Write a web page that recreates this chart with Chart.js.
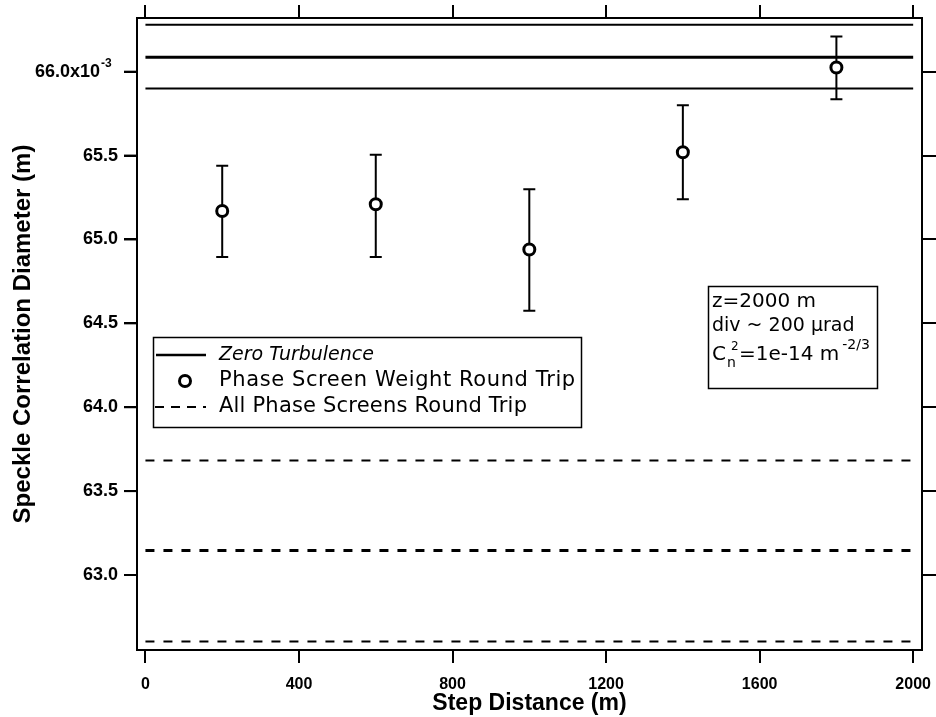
<!DOCTYPE html>
<html>
<head>
<meta charset="utf-8">
<script src="https://cdn.jsdelivr.net/npm/chart.js@4.4.1/dist/chart.umd.min.js"></script>
<style>
  html, body { margin: 0; padding: 0; background: #fff; }
  #wrap { position: relative; width: 936px; height: 717px; }
  canvas { display: block; }
</style>
</head>
<body>
<div id="wrap"><canvas id="c" width="936" height="717"></canvas></div>
<script>
// ---- data ----
const stepDistance = [200, 600, 1000, 1400, 1800];
const weightMean   = [65.17, 65.21, 64.94, 65.52, 66.025];
const weightHigh   = [65.44, 65.505, 65.30, 65.80, 66.21];
const weightLow    = [64.895, 64.895, 64.575, 65.24, 65.835];

const lineSpan = [0, 2000];
const zeroTurbulence = [66.28, 66.086, 65.90];   // solid lines (upper, centre, lower)
const allScreens     = [63.682, 63.146, 62.603]; // dashed lines (upper, centre, lower)

const xTicks = [0, 400, 800, 1200, 1600, 2000];
const xTickLabels = ['0', '400', '800', '1200', '1600', '2000'];
const yTicks = [63.0, 63.5, 64.0, 64.5, 65.0, 65.5, 66.0];
const yTickLabels = ['63.0', '63.5', '64.0', '64.5', '65.0', '65.5', '66.0x10^-3'];

const legendLabels = ['Zero Turbulence', 'Phase Screen Weight Round Trip', 'All Phase Screens Round Trip'];
const noteLines = ['z=2000 m', 'div ~ 200 \u00B5rad'];

const xRange = [-22, 2023];
const yRange = [62.553, 66.32];

// ---- build datasets ----
function hLine(v) { return lineSpan.map(x => ({ x: x, y: v })); }
const datasets = [];
zeroTurbulence.forEach((v, i) => datasets.push({
  type: 'line', data: hLine(v), borderColor: '#000', borderWidth: i === 1 ? 3 : 2,
  pointRadius: 0, fill: false, tension: 0
}));
allScreens.forEach((v, i) => datasets.push({
  type: 'line', data: hLine(v), borderColor: '#000', borderWidth: i === 1 ? 3 : 2,
  borderDash: [9, 9], pointRadius: 0, fill: false, tension: 0
}));
datasets.push({
  type: 'scatter', data: stepDistance.map((x, i) => ({ x: x, y: weightMean[i] })),
  pointStyle: 'circle', pointRadius: 5.5, borderWidth: 3, borderColor: '#000',
  backgroundColor: '#fff', showLine: false
});

const SANS = '"Liberation Sans", Arial, sans-serif';
const LEG = '"DejaVu Sans", sans-serif';

const errorBars = {
  id: 'errorBars',
  beforeDatasetsDraw(chart) {
    const ctx = chart.ctx, xs = chart.scales.x, ys = chart.scales.y;
    ctx.save();
    ctx.strokeStyle = '#000';
    ctx.lineWidth = 2;
    stepDistance.forEach((x, i) => {
      const px = xs.getPixelForValue(x);
      const hi = ys.getPixelForValue(weightHigh[i]);
      const lo = ys.getPixelForValue(weightLow[i]);
      ctx.beginPath();
      ctx.moveTo(px, hi); ctx.lineTo(px, lo);
      ctx.moveTo(px - 6, hi); ctx.lineTo(px + 6, hi);
      ctx.moveTo(px - 6, lo); ctx.lineTo(px + 6, lo);
      ctx.stroke();
    });
    ctx.restore();
  }
};

const decorations = {
  id: 'decorations',
  afterDraw(chart) {
    const ctx = chart.ctx, ys = chart.scales.y, area = chart.chartArea;
    ctx.save();
    ctx.fillStyle = '#000';
    ctx.strokeStyle = '#000';
    // left tick marks, from the y scale
    yTicks.forEach(v => {
      const py = ys.getPixelForValue(v);
      ctx.fillRect(area.left - 13, py - 1, 13, 2);
    });
    // superscripted tick label
    yTickLabels.forEach((lab, i) => {
      if (lab.indexOf('^') < 0) return;
      const parts = lab.split('^');
      const py = ys.getPixelForValue(yTicks[i]);
      ctx.font = 'bold 18px ' + SANS;
      ctx.textAlign = 'right'; ctx.textBaseline = 'middle';
      ctx.fillText(parts[0], 100, py);
      ctx.font = 'bold 12px ' + SANS;
      ctx.textAlign = 'left';
      ctx.fillText(parts[1], 101, py - 8);
    });

    // legend box
    ctx.lineWidth = 1.5;
    ctx.strokeRect(153.5, 337.5, 428, 90);
    const rows = [355, 381, 407];
    ctx.lineWidth = 2.5;
    ctx.beginPath(); ctx.moveTo(156, rows[0]); ctx.lineTo(206, rows[0]); ctx.stroke();
    ctx.lineWidth = 3;
    ctx.beginPath(); ctx.arc(185, rows[1], 5.5, 0, Math.PI * 2); ctx.stroke();
    ctx.lineWidth = 2;
    ctx.setLineDash([9, 7]);
    ctx.beginPath(); ctx.moveTo(155, rows[2]); ctx.lineTo(206, rows[2]); ctx.stroke();
    ctx.setLineDash([]);
    ctx.textAlign = 'left'; ctx.textBaseline = 'middle';
    ctx.font = 'italic 19px ' + LEG;
    ctx.fillText(legendLabels[0], 219, rows[0]);
    ctx.font = '21px ' + LEG;
    ctx.letterSpacing = '0.6px';
    ctx.fillText(legendLabels[1], 219, rows[1]);
    ctx.letterSpacing = '0.2px';
    ctx.fillText(legendLabels[2], 219, rows[2]);
    ctx.letterSpacing = '0px';

    // annotation box
    ctx.lineWidth = 1.5;
    ctx.strokeRect(708.5, 286.5, 169, 102);
    ctx.font = '20px ' + LEG;
    ctx.fillText(noteLines[0], 712, 302);
    ctx.font = '19px ' + LEG;
    ctx.fillText(noteLines[1], 712, 326);
    // C_n^2=1e-14 m^-2/3
    let x = 712; const by = 355;
    ctx.font = '20px ' + LEG;
    ctx.fillText('C', x, by); x += ctx.measureText('C').width;
    ctx.font = '14px ' + LEG;
    ctx.fillText('n', x + 1, by + 8);
    ctx.font = '12px ' + LEG;
    ctx.fillText('2', x + 5, by - 8);
    x += 13;
    ctx.font = '20px ' + LEG;
    ctx.fillText('=1e-14 m', x, by); x += ctx.measureText('=1e-14 m').width;
    ctx.font = '14px ' + LEG;
    ctx.fillText('-2/3', x + 3, by - 10);
    ctx.restore();
  }
};

const tickFontX = { family: SANS, weight: 'bold', size: 16 };
const tickFontY = { family: SANS, weight: 'bold', size: 18 };
const gridCommon = { drawOnChartArea: false, color: '#000', lineWidth: 2 };
const borderCommon = { display: true, color: '#000', width: 2 };
function noPad(s) { s.paddingLeft = 0; s.paddingRight = 0; s.paddingTop = 0; s.paddingBottom = 0; }

new Chart(document.getElementById('c'), {
  type: 'scatter',
  data: { datasets: datasets },
  plugins: [errorBars, decorations],
  options: {
    responsive: false,
    animation: false,
    devicePixelRatio: 1,
    layout: { padding: 0 },
    plugins: { legend: { display: false }, tooltip: { enabled: false } },
    scales: {
      x: {
        type: 'linear', position: 'bottom', min: xRange[0], max: xRange[1],
        afterBuildTicks: s => { s.ticks = xTicks.map(v => ({ value: v })); },
        afterFit: s => { s.height = 67; noPad(s); },
        grid: Object.assign({ tickLength: 13 }, gridCommon),
        border: borderCommon,
        ticks: { color: '#000', font: tickFontX, padding: 12, autoSkip: false, maxRotation: 0,
                 callback: (v, i) => xTickLabels[i] },
        title: { display: true, text: 'Step Distance (m)', color: '#000',
                 font: { family: SANS, weight: 'bold', size: 23 }, padding: { top: 0, bottom: 0 } }
      },
      x2: {
        type: 'linear', position: 'top', min: xRange[0], max: xRange[1],
        afterBuildTicks: s => { s.ticks = xTicks.map(v => ({ value: v })); },
        afterFit: s => { s.height = 18; noPad(s); },
        grid: Object.assign({ tickLength: 13 }, gridCommon),
        border: borderCommon,
        ticks: { display: false }
      },
      y: {
        type: 'linear', position: 'left', min: yRange[0], max: yRange[1],
        afterBuildTicks: s => { s.ticks = yTicks.map(v => ({ value: v })); },
        afterFit: s => { s.width = 137; noPad(s); },
        grid: Object.assign({ tickLength: 13 }, gridCommon),
        border: borderCommon,
        ticks: { color: '#000', font: tickFontY, padding: 6, autoSkip: false,
                 callback: (v, i) => (yTickLabels[i].indexOf('^') < 0 ? yTickLabels[i] : '') },
        title: { display: true, text: 'Speckle Correlation Diameter (m)', color: '#000',
                 font: { family: SANS, weight: 'bold', size: 24 }, padding: { top: 9, bottom: 0 } }
      },
      y2: {
        type: 'linear', position: 'right', min: yRange[0], max: yRange[1],
        afterBuildTicks: s => { s.ticks = yTicks.map(v => ({ value: v })); },
        afterFit: s => { s.width = 14; noPad(s); },
        grid: Object.assign({ tickLength: 14 }, gridCommon),
        border: borderCommon,
        ticks: { display: false }
      }
    }
  }
});
</script>
</body>
</html>
